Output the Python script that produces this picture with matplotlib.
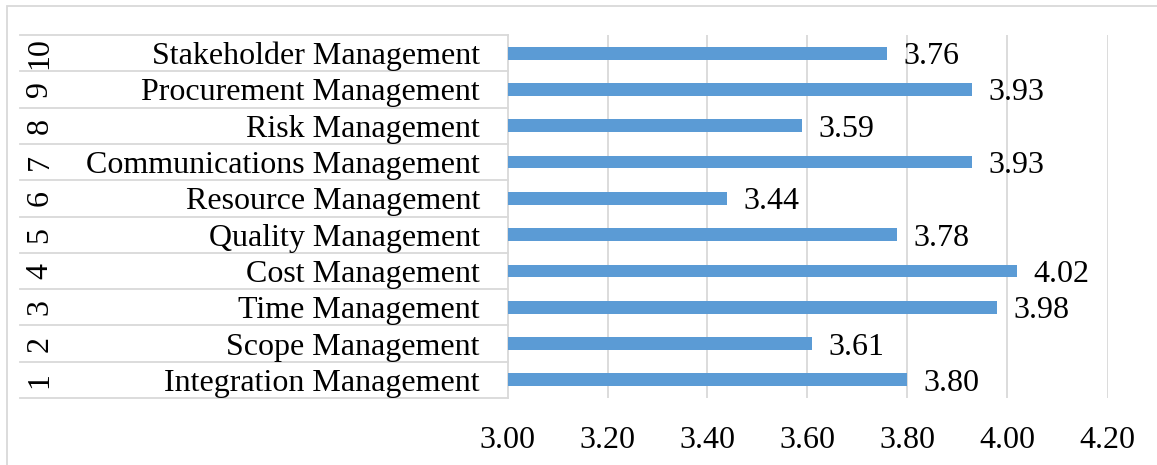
import matplotlib
matplotlib.use("Agg")
import matplotlib.pyplot as plt
import matplotlib.transforms as mtransforms
from matplotlib.patches import Rectangle

numbers = ["1", "2", "3", "4", "5", "6", "7", "8", "9", "10"]
names = ["Integration Management", "Scope Management", "Time Management",
         "Cost Management", "Quality Management", "Resource Management",
         "Communications Management", "Risk Management",
         "Procurement Management", "Stakeholder Management"]
values = [3.80, 3.61, 3.98, 4.02, 3.78, 3.44, 3.93, 3.59, 3.93, 3.76]
xticks = [3.00, 3.20, 3.40, 3.60, 3.80, 4.00, 4.20]

W, H = 1157, 465
plt.rcParams['font.family'] = ['Liberation Serif', 'DejaVu Serif']
fig = plt.figure(figsize=(W / 100, H / 100), dpi=100)

left_px, right_px, top_px, bot_px = 507.5, 1107.5, 35, 398
ax = fig.add_axes([left_px / W, 1 - bot_px / H, (right_px - left_px) / W, (bot_px - top_px) / H])

grid_c = '#D9D9D9'
fs = 23
y = list(range(len(values)))
ax.barh(y, values, height=0.35, color='#5B9BD5', zorder=3)
ax.set_xlim(3.0, 4.2)
ax.set_ylim(-0.5, len(values) - 0.5)
ax.set_xticks(xticks)
ax.set_xticklabels([f"{t:.2f}" for t in xticks], fontsize=fs)
ax.tick_params(axis='x', length=0, pad=20)
ax.set_yticks([])
for s in ['top', 'right', 'bottom']:
    ax.spines[s].set_visible(False)
ax.spines['left'].set_color(grid_c)
ax.spines['left'].set_linewidth(1.3)
ax.grid(axis='x', color=grid_c, linewidth=1.3, zorder=0)

for yi, v in zip(y, values):
    ax.annotate(f"{v:.2f}", xy=(v, yi), xytext=(11.5, 0), textcoords='offset points',
                ha='left', va='center_baseline', fontsize=fs, zorder=4)

# multi-level category labels
trans = mtransforms.blended_transform_factory(ax.transAxes, ax.transData)
x_left = (20 - left_px) / (right_px - left_px)
x_num = (40 - left_px) / (right_px - left_px)
x_name = (480 - left_px) / (right_px - left_px)
for i in range(len(values) + 1):
    ax.plot([x_left, 0], [i - 0.5, i - 0.5], transform=trans, color=grid_c,
            linewidth=1.3, clip_on=False)
for yi, n, nm in zip(y, numbers, names):
    ax.text(x_num, yi, n, transform=trans, rotation=90, ha='center', va='center', fontsize=fs)
    ax.text(x_name, yi, nm, transform=trans, ha='right', va='center_baseline', fontsize=fs)

# chart border
fig.add_artist(Rectangle((7 / W, -0.1), 1.2, 1 - 6 / H + 0.1, transform=fig.transFigure,
                         fill=False, edgecolor=grid_c, linewidth=1.3))

fig.savefig("out.png", dpi=100)
